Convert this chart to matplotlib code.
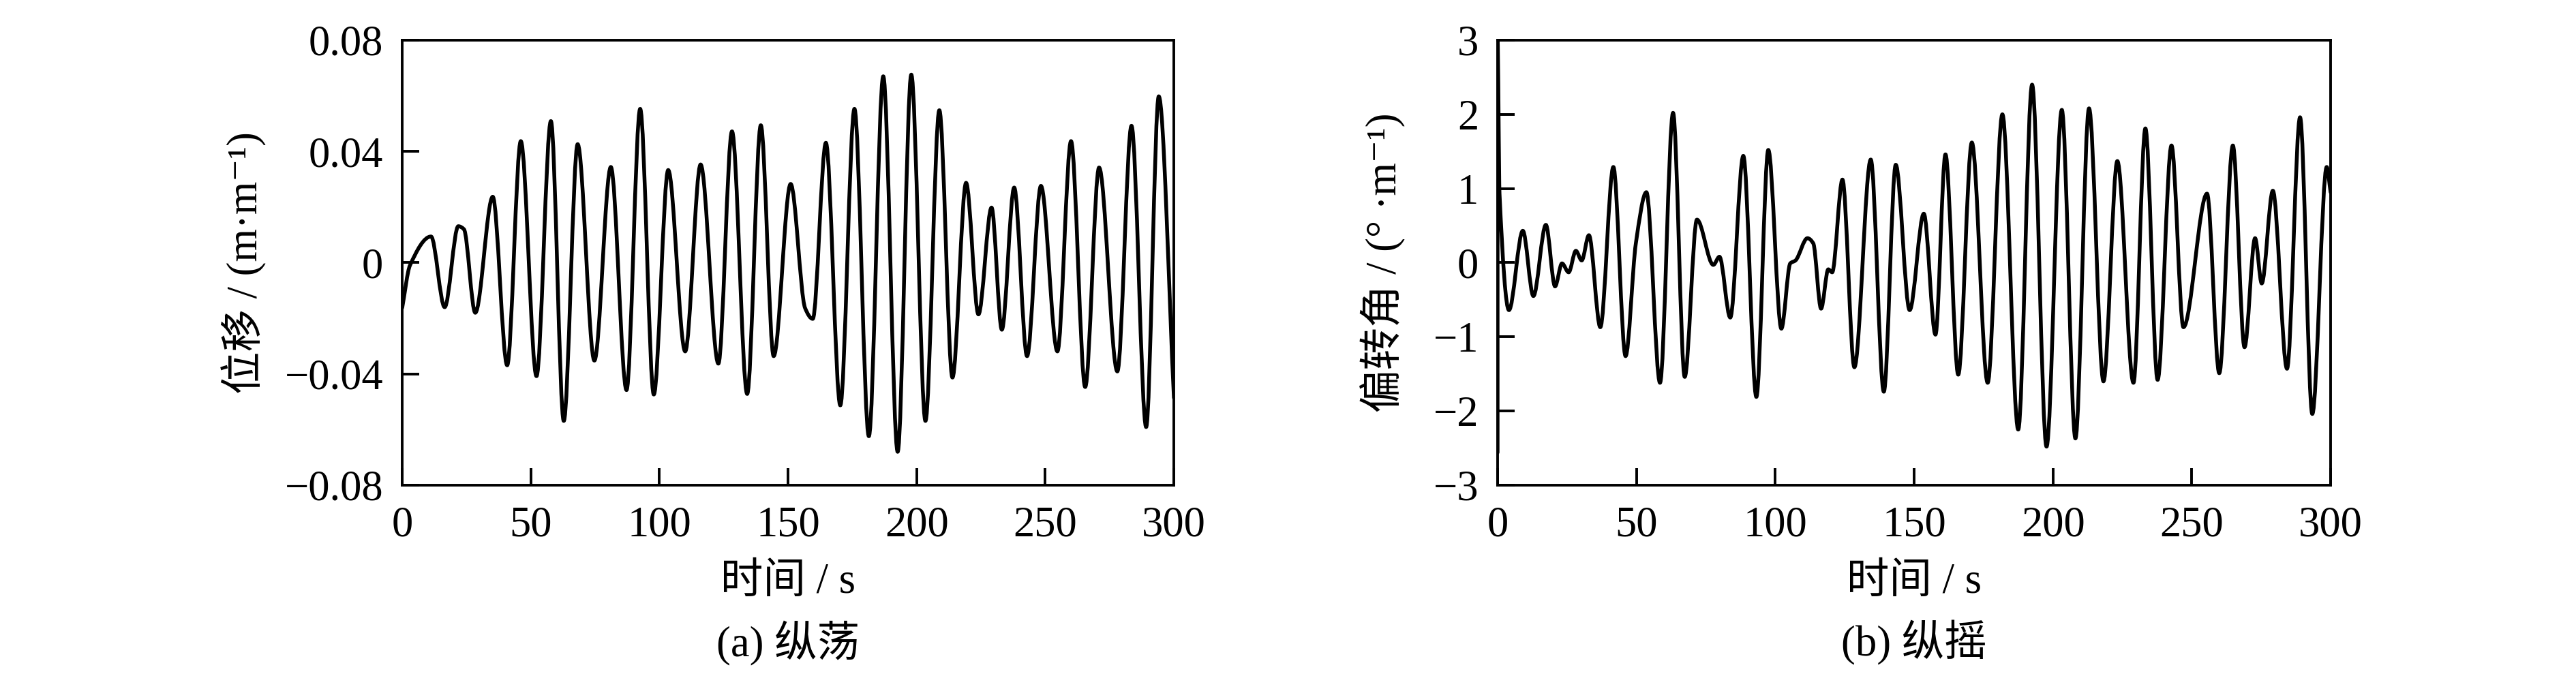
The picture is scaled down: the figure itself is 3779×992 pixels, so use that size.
import numpy as np
import matplotlib
matplotlib.use("Agg")
import matplotlib.pyplot as plt
from matplotlib.path import Path
from matplotlib.patches import PathPatch

plt.rcParams['font.family'] = ['Liberation Serif', 'Noto Sans CJK SC', 'DejaVu Sans']
plt.rcParams['axes.unicode_minus'] = True

# surge (a): peaks / troughs / shoulders, t in s, value in m/m
surge_t = [0, 3.0, 11.2, 16.5, 21.8, 24.0, 28.4, 35.2, 40.8, 46.1, 52.2, 57.8, 62.8,
           68.2, 74.7, 81.1, 87.2, 92.5, 97.8, 103.4, 110.0, 116.0, 122.9, 128.2,
           134.1, 139.4, 144.4, 151.0, 156.6, 159.6, 164.7, 170.3, 175.8, 181.4,
           187.0, 192.6, 197.9, 203.4, 208.8, 213.9, 219.2, 224.0, 229.1, 233.1,
           237.9, 242.9, 248.3, 254.7, 260.0, 265.5, 270.9, 278.0, 283.5, 289.2,
           294.1, 300.0]
surge_v = [-0.0162, -0.0010, 0.0094, -0.0160, 0.0131, 0.0120, -0.0180, 0.0237,
           -0.0369, 0.0437, -0.0408, 0.0509, -0.0569, 0.0426, -0.0352, 0.0344,
           -0.0458, 0.0553, -0.0474, 0.0333, -0.0319, 0.0353, -0.0363, 0.0472,
           -0.0472, 0.0494, -0.0336, 0.0283, -0.0163, -0.0202, 0.0431, -0.0513,
           0.0553, -0.0624, 0.0670, -0.0680, 0.0676, -0.0569, 0.0548, -0.0413,
           0.0287, -0.0186, 0.0198, -0.0241, 0.0270, -0.0336, 0.0276, -0.0319,
           0.0437, -0.0447, 0.0342, -0.0391, 0.0492, -0.0591, 0.0598, -0.0486]

# pitch (b): deflection angle, deg/m
pitch_t = [0, 0, 0.7, 4.1, 9.1, 12.9, 17.4, 20.7, 23.2, 25.6, 28.2, 30.3, 32.9,
           37.0, 41.7, 46.1, 49.8, 53.6, 58.5, 63.2, 67.4, 71.8, 77.7, 79.9, 83.8,
           88.5, 93.2, 97.5, 102.2, 105.4, 107.3, 111.6, 113.7, 116.5, 119.1, 120.5,
           124.2, 128.5, 134.4, 139.1, 143.4, 148.4, 153.5, 157.7, 161.3, 165.9,
           170.8, 176.5, 181.8, 187.5, 192.5, 197.7, 203.2, 208.1, 213.0, 218.2,
           223.2, 229.0, 233.3, 237.7, 242.7, 247.0, 255.5, 259.9, 264.8, 269.0,
           272.8, 275.2, 279.2, 284.3, 289.0, 293.4, 298.6, 300.0]
pitch_v = [-2.56, 3.0, 0.93, -0.64, 0.43, -0.45, 0.51, -0.32, -0.01, -0.13, 0.16,
           0.03, 0.37, -0.87, 1.29, -1.26, 0.26, 0.95, -1.62, 2.02, -1.54, 0.58,
           -0.03, 0.08, -0.74, 1.44, -1.81, 1.52, -0.89, -0.01, 0.03, 0.33, 0.26,
           -0.62, -0.09, -0.13, 1.12, -1.41, 1.39, -1.74, 1.32, -0.64, 0.66, -0.97,
           1.46, -1.51, 1.62, -1.62, 2.00, -2.25, 2.40, -2.48, 2.06, -2.37, 2.08,
           -1.60, 1.37, -1.62, 1.81, -1.58, 1.58, -0.87, 0.93, -1.49, 1.58, -1.14,
           0.33, -0.28, 0.97, -1.43, 1.96, -2.04, 1.29, 0.95]

x_ticks = [0, 50, 100, 150, 200, 250, 300]
surge_yticks = [0.08, 0.04, 0, -0.04, -0.08]
surge_ylabels = ['0.08', '0.04', '0', '\u22120.04', '\u22120.08']
pitch_yticks = [3, 2, 1, 0, -1, -2, -3]
pitch_ylabels = ['3', '2', '1', '0', '\u22121', '\u22122', '\u22123']

x_label = '时间 / s'
surge_label = '位移 / (m·m\u207b\u00b9)'
pitch_label = '偏转角 / (° ·m\u207b\u00b9)'
captions = ['(a) 纵荡', '(b) 纵摇']


def smooth_path(t, v):
    # bezier segments through the read points, flat at peaks (like a smoothed line)
    t = np.asarray(t, float)
    v = np.asarray(v, float)
    n = len(t)
    h = np.diff(t)
    d = np.full(n - 1, np.nan)
    ok = h > 0
    d[ok] = np.diff(v)[ok] / h[ok]
    m = np.zeros(n)
    for i in range(1, n - 1):
        a, b = d[i - 1], d[i]
        if np.isnan(a) or np.isnan(b) or a * b <= 0:
            m[i] = 0
        else:
            m[i] = 2 / (1 / a + 1 / b)
    m[0] = 0 if np.isnan(d[0]) else d[0]
    m[-1] = d[-1]
    verts = [(t[0], v[0])]
    codes = [Path.MOVETO]
    for i in range(n - 1):
        if h[i] <= 0:
            verts.append((t[i + 1], v[i + 1]))
            codes.append(Path.LINETO)
        else:
            k = h[i] / 3
            verts += [(t[i] + k, v[i] + m[i] * k),
                      (t[i + 1] - k, v[i + 1] - m[i + 1] * k),
                      (t[i + 1], v[i + 1])]
            codes += [Path.CURVE4] * 3
    return Path(verts, codes)


def style(ax, t, v, yticks, ylabels, ylim, ylabel, label_x, caption):
    ax.add_patch(PathPatch(smooth_path(t, v), facecolor='none', edgecolor='black',
                           lw=4.0, joinstyle='round', capstyle='round'))
    ax.set_xlim(0, 300)
    ax.set_ylim(*ylim)
    ax.set_xticks(x_ticks)
    ax.set_xticklabels([str(x) for x in x_ticks])
    ax.set_yticks(yticks)
    ax.set_yticklabels(ylabels)
    ax.tick_params(direction='in', length=18, width=2.8, labelsize=45,
                   top=False, right=False)
    ax.tick_params(axis='x', pad=22)
    ax.tick_params(axis='y', pad=20)
    for s in ax.spines.values():
        s.set_linewidth(2.8)
    ax.set_xlabel(x_label, fontsize=45, va='center')
    ax.xaxis.set_label_coords(0.5, -0.219)
    ax.set_ylabel(ylabel, fontsize=45, va='center')
    ax.yaxis.set_label_coords(label_x, 0.5)
    ax.text(0.5, -0.355, caption, transform=ax.transAxes, fontsize=45,
            ha='center', va='center')


fig = plt.figure(figsize=(37.8, 9.92), dpi=100)
ax1 = fig.add_axes([0.1561, 0.2823, 0.2995, 0.6583])
ax2 = fig.add_axes([0.5812, 0.2823, 0.3233, 0.6583])

style(ax1, surge_t, surge_v, surge_yticks, surge_ylabels, (-0.08, 0.08),
      surge_label, -0.205, captions[0])
style(ax2, pitch_t, pitch_v, pitch_yticks, pitch_ylabels, (-3, 3),
      pitch_label, -0.137, captions[1])

fig.savefig('out.png', dpi=100, facecolor='white')
